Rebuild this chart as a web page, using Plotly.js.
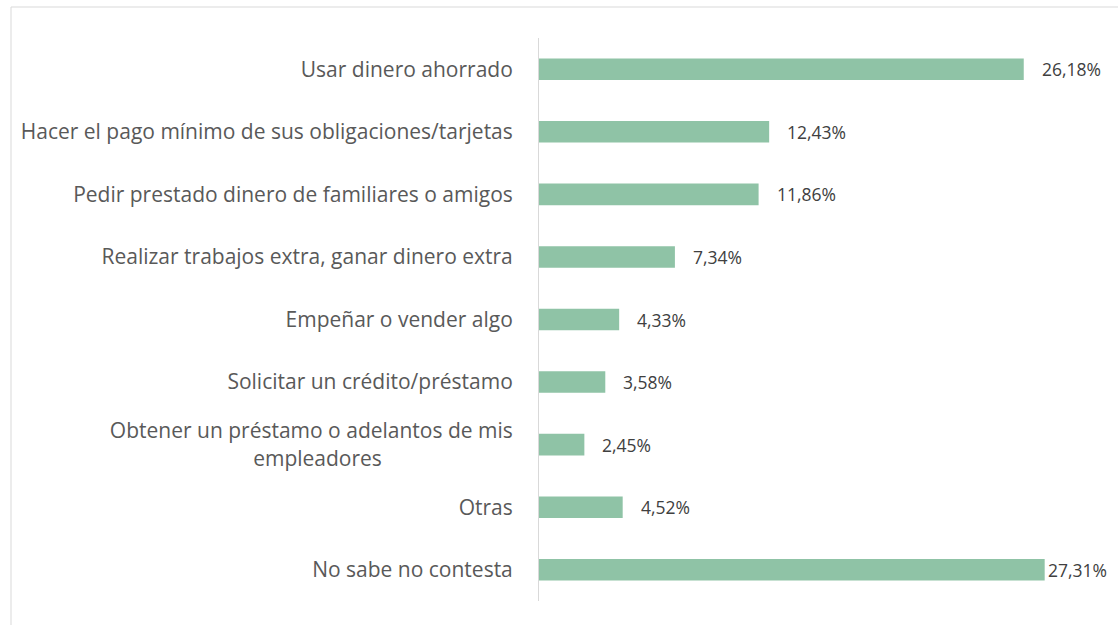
<!DOCTYPE html>
<html>
<head>
<meta charset="utf-8">
<script src="https://cdn.plot.ly/plotly-3.0.1.min.js"></script>
<style>html,body{margin:0;padding:0;background:#fff;}#chart{width:1118px;height:625px;}</style>
</head>
<body>
<div id="chart"></div>
<script>
const categories = [
  "Usar dinero ahorrado",
  "Hacer el pago mínimo de sus obligaciones/tarjetas",
  "Pedir prestado dinero de familiares o amigos",
  "Realizar trabajos extra, ganar dinero extra",
  "Empeñar o vender algo",
  "Solicitar un crédito/préstamo",
  "Obtener un préstamo o adelantos de mis empleadores",
  "Otras",
  "No sabe no contesta"
];
const values = [26.18, 12.43, 11.86, 7.34, 4.33, 3.58, 2.45, 4.52, 27.31];
const tickLabels = [
  "Usar dinero ahorrado",
  "Hacer el pago mínimo de sus obligaciones/tarjetas",
  "Pedir prestado dinero de familiares o amigos",
  "Realizar trabajos extra, ganar dinero extra",
  "Empeñar o vender algo",
  "Solicitar un crédito/préstamo",
  "Obtener un préstamo o adelantos de mis<br>empleadores" + "\u00a0".repeat(24),
  "Otras",
  "No sabe no contesta"
];

const barColor = "#8fc3a6";
const labelShift = values.map((v, i) => i === values.length - 1 ? 1 : 16);

const annotations = values.map((v, i) => ({
  x: v, y: categories[i], xref: 'x', yref: 'y',
  text: v.toFixed(2).replace('.', ',') + '%',
  showarrow: false, xanchor: 'left', yanchor: 'middle',
  xshift: labelShift[i],
  font: {family: 'Open Sans, sans-serif', size: 17.5, color: '#404040'}
}));

const trace = {
  type: 'bar', orientation: 'h',
  x: values, y: categories,
  marker: {color: barColor},
  hoverinfo: 'none'
};

const layout = {
  width: 1118, height: 625,
  margin: {l: 539, r: 5, t: 38, b: 24},
  paper_bgcolor: '#fff', plot_bgcolor: '#fff',
  bargap: 0.655,
  showlegend: false,
  xaxis: {range: [0, 31], showgrid: false, zeroline: false, showticklabels: false, showline: false, fixedrange: true},
  yaxis: {
    autorange: 'reversed', type: 'category',
    tickvals: categories, ticktext: tickLabels,
    showgrid: false, zeroline: false,
    showline: true, linecolor: '#d9d9d9', linewidth: 1,
    ticks: '', ticklabelstandoff: 21,
    tickfont: {family: 'Open Sans, sans-serif', size: 21, color: '#595959'}
  },
  annotations: annotations,
  shapes: [{
    type: 'rect', xref: 'paper', yref: 'paper',
    x0: (11 - 539) / 574, x1: 1.3, y0: -0.3, y1: 1 + (38 - 7) / 563,
    line: {color: '#d9d9d9', width: 1}, fillcolor: 'rgba(0,0,0,0)', layer: 'below'
  }]
};

Plotly.newPlot('chart', [trace], layout, {displayModeBar: false, staticPlot: true});
</script>
</body>
</html>
